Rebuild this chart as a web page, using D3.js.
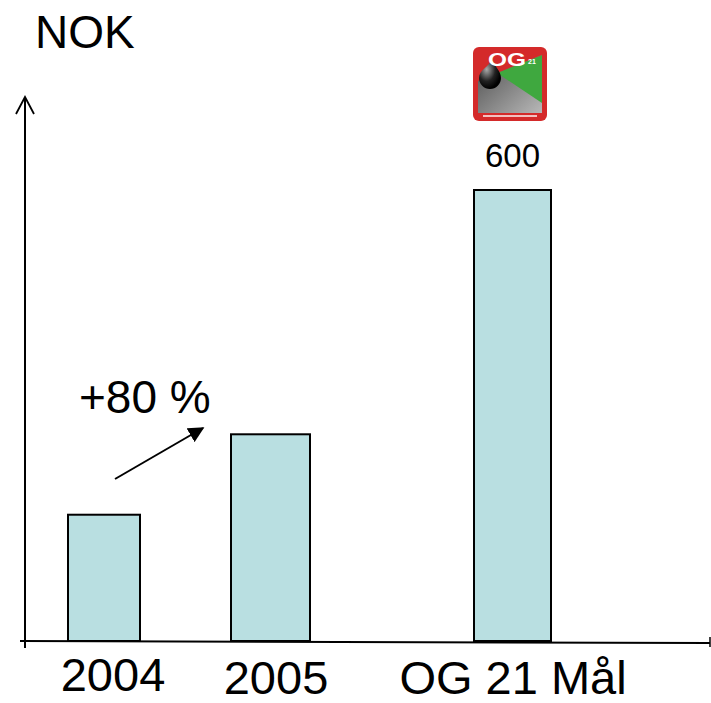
<!DOCTYPE html>
<html><head><meta charset="utf-8">
<script src="https://cdn.jsdelivr.net/npm/d3@7"></script>
<style>body{margin:0;background:#fff}svg{display:block;font-family:"Liberation Sans",Arial,sans-serif}</style>
</head><body>
<script>
const categories = ["2004", "2005", "OG 21 Mål"];
const values = [168, 275, 600];
const valueLabels = ["", "", "600"];
const growthLabel = "+80 %";
const unitLabel = "NOK";

const W = 711, H = 703;
const svg = d3.select("body").append("svg").attr("width", W).attr("height", H);

const x = d3.scaleOrdinal().domain(categories).range([104, 270.5, 512.5]);
const widths = d3.scaleOrdinal().domain(categories).range([72, 79, 77]);
const labelX = d3.scaleOrdinal().domain(categories).range([113, 276, 513]);
const labelY = d3.scaleOrdinal().domain(categories).range([691, 694, 694]);
const y = d3.scaleLinear().domain([0, 600]).range([641, 190]);

const defs = svg.append("defs");
defs.append("marker").attr("id","ah").attr("viewBox","0 0 10 10").attr("refX",9).attr("refY",5)
  .attr("markerWidth",8).attr("markerHeight",8).attr("orient","auto")
  .append("path").attr("d","M0,0 L10,5 L0,10 Z").attr("fill","#000");

// bars
svg.selectAll("rect.bar").data(categories).join("rect").attr("class","bar")
  .attr("x", d => x(d) - widths(d)/2)
  .attr("width", d => widths(d))
  .attr("y", (d,i) => y(values[i]))
  .attr("height", (d,i) => y(0) - y(values[i]))
  .attr("fill", "#b9dfe1").attr("stroke", "#000").attr("stroke-width", 2);

// axes
svg.append("line").attr("x1",20).attr("y1",y(0)).attr("x2",710).attr("y2",y(0)+2)
  .attr("stroke","#000").attr("stroke-width",2);
svg.append("line").attr("x1",710).attr("y1",y(0)-4).attr("x2",710).attr("y2",y(0)+6)
  .attr("stroke","#000").attr("stroke-width",1.5);
svg.append("line").attr("x1",25).attr("y1",648).attr("x2",25).attr("y2",97)
  .attr("stroke","#000").attr("stroke-width",2);
svg.append("path").attr("d","M16,114 L25,97 L34,114").attr("fill","none")
  .attr("stroke","#000").attr("stroke-width",1.8);

// category labels
svg.selectAll("text.cat").data(categories).join("text").attr("class","cat")
  .attr("x", d => labelX(d)).attr("y", d => labelY(d))
  .attr("text-anchor","middle").attr("font-size",47).attr("fill","#000").text(d => d);

// value labels
svg.selectAll("text.val").data(categories).join("text").attr("class","val")
  .attr("x", d => x(d)).attr("y", (d,i) => y(values[i]) - 23)
  .attr("text-anchor","middle").attr("font-size",33).attr("fill","#000")
  .text((d,i) => valueLabels[i]);

svg.append("text").attr("x",35).attr("y",48).attr("font-size",46).text(unitLabel);
svg.append("text").attr("x",79).attr("y",413).attr("font-size",46).text(growthLabel);
svg.append("line").attr("x1",115).attr("y1",479).attr("x2",203).attr("y2",428)
  .attr("stroke","#000").attr("stroke-width",2).attr("marker-end","url(#ah)");

// OG21 logo
const lg = svg.append("g").attr("transform","translate(473,47)");
const gr = defs.append("linearGradient").attr("id","gg").attr("x1",0).attr("y1",0).attr("x2",1).attr("y2",1);
gr.append("stop").attr("offset","0%").attr("stop-color","#4a4a4a");
gr.append("stop").attr("offset","100%").attr("stop-color","#b8b8b8");
const rg = defs.append("radialGradient").attr("id","dr").attr("cx","35%").attr("cy","35%").attr("r","65%");
rg.append("stop").attr("offset","0%").attr("stop-color","#aaa");
rg.append("stop").attr("offset","60%").attr("stop-color","#222");
rg.append("stop").attr("offset","100%").attr("stop-color","#000");
lg.append("rect").attr("width",74).attr("height",74).attr("rx",6).attr("fill","#d42a2a");
lg.append("rect").attr("x",5).attr("y",8).attr("width",64).attr("height",58).attr("fill","url(#gg)");
lg.append("path").attr("d","M24,26 L69,8 L69,56 Z").attr("fill","#3fa83f");
lg.append("path").attr("d","M5,8 L69,8 L24,26 L5,34 Z").attr("fill","#d42a2a");
lg.append("path").attr("d","M19,12 C22,20 28,24 28,31 A11,11 0 1 1 6,31 C6,23 16,20 19,12 Z").attr("fill","url(#dr)");
lg.append("text").attr("x",15).attr("y",19).attr("font-size",18).attr("font-weight","bold")
  .attr("textLength",38).attr("lengthAdjust","spacingAndGlyphs").attr("fill","#fff").text("OG");
lg.append("text").attr("x",55).attr("y",17).attr("font-size",7).attr("font-weight","bold").attr("fill","#fff").text("21");
lg.append("rect").attr("x",10).attr("y",68).attr("width",54).attr("height",2).attr("fill","#f3c0c0");
</script>
</body></html>
